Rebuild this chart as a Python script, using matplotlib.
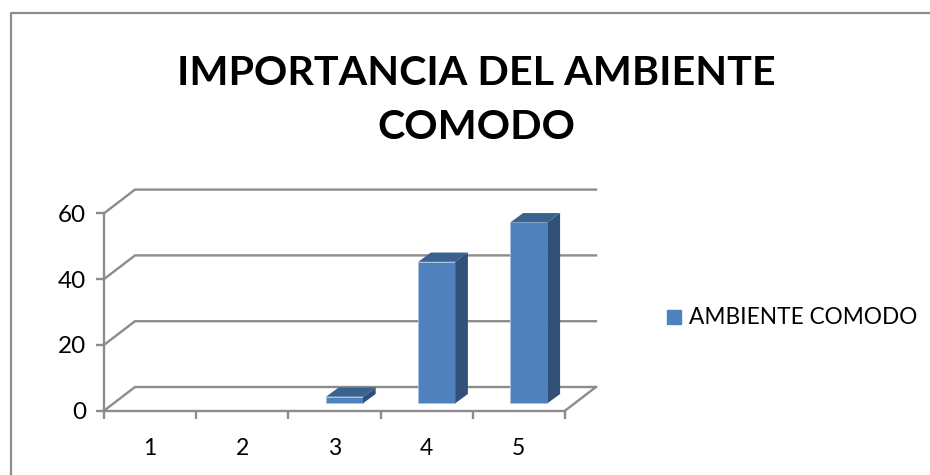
import matplotlib
matplotlib.use("Agg")
import matplotlib.pyplot as plt
from matplotlib.patches import Polygon
from matplotlib.lines import Line2D

# chart data
categories = ["1", "2", "3", "4", "5"]
values = [0, 0, 2, 43, 55]
y_ticks = [0, 20, 40, 60]
title = "IMPORTANCIA DEL AMBIENTE\nCOMODO"
series_name = "AMBIENTE COMODO"

W, H = 930, 475
GRAY = "#8c8c8c"
FRONT = "#4f81bd"
TOP = "#3a6291"
SIDE = "#325178"

plt.rcParams["font.family"] = ["Lato", "DejaVu Sans"]

fig = plt.figure(figsize=(W / 100, H / 100), dpi=100)
ax = fig.add_axes([104 / W, 1 - 410.7 / H, (565 - 104) / W, (410.7 - 213.3) / H])
ax.set_xlim(0.5, 5.5)
ax.set_ylim(0, 60)
ax.patch.set_visible(False)

# fake 3d depth, in data units
wall_dx = 31 / 92.2
wall_dy = 23.7 / 3.29
bar_w = 37 / 92.2
bar_off_x = 10 / 92.2
bar_off_y = 7.4 / 3.29
bar_dx = 12.7 / 92.2
bar_dy = 9.3 / 3.29

# gridlines on the back wall and the side wall
for t in y_ticks:
    ax.plot([0.5, 0.5 + wall_dx, 5.5 + wall_dx], [t, t + wall_dy, t + wall_dy],
            color=GRAY, lw=1.7, clip_on=False, zorder=1, solid_joinstyle="miter")
# floor right edge
ax.plot([5.5, 5.5 + wall_dx], [0, wall_dy], color=GRAY, lw=1.7, clip_on=False, zorder=1)

xs = list(range(1, len(categories) + 1))
for x, v in zip(xs, values):
    if v == 0:
        continue
    left = x + bar_off_x - bar_w / 2
    right = left + bar_w
    b = bar_off_y
    ax.bar(x + bar_off_x, v, width=bar_w, bottom=b, color=FRONT, edgecolor="#a9c4e4",
           linewidth=0.5, clip_on=False, zorder=3)
    ax.add_patch(Polygon([(left, b + v), (right, b + v), (right + bar_dx, b + v + bar_dy),
                          (left + bar_dx, b + v + bar_dy)], closed=True, fc=TOP, ec="none",
                         clip_on=False, zorder=3))
    ax.add_patch(Polygon([(right, b), (right + bar_dx, b + bar_dy), (right + bar_dx, b + v + bar_dy),
                          (right, b + v)], closed=True, fc=SIDE, ec="none",
                         clip_on=False, zorder=3))

# axes
for s in ["top", "right"]:
    ax.spines[s].set_visible(False)
for s in ["left", "bottom"]:
    ax.spines[s].set_color(GRAY)
    ax.spines[s].set_linewidth(1.7)

ax.set_yticks(y_ticks)
ax.set_yticklabels([str(t) for t in y_ticks])
ax.set_xticks([x - 0.5 for x in xs] + [5.5])
ax.set_xticklabels([])
ax.set_xticks(xs, minor=True)
ax.set_xticklabels(categories, minor=True)
ax.tick_params(axis="both", which="major", color=GRAY, width=1.7, length=5.8, labelsize=17.5)
ax.tick_params(axis="x", which="minor", length=0, labelsize=16.5, pad=20)
ax.tick_params(axis="y", pad=7)

fig.text(476 / W, 1 - 100.5 / H, title, ha="center", va="center", fontsize=29.7,
         fontweight="bold", color="black", linespacing=1.58)

handle = Line2D([], [], linestyle="none", marker="s", markersize=9.8, color=FRONT)
fig.legend([handle], [series_name], loc="center left", bbox_to_anchor=(651 / W, 1 - 318 / H),
           frameon=False, fontsize=16.3, handletextpad=-0.33, borderpad=0, borderaxespad=0)

# outer frame: only the top and left edges show up
fig.add_artist(Line2D([10.5 / W, 10.5 / W, 1], [0, 1 - 13 / H, 1 - 13 / H], color=GRAY, lw=1.6))

fig.savefig("out.png", dpi=100)
